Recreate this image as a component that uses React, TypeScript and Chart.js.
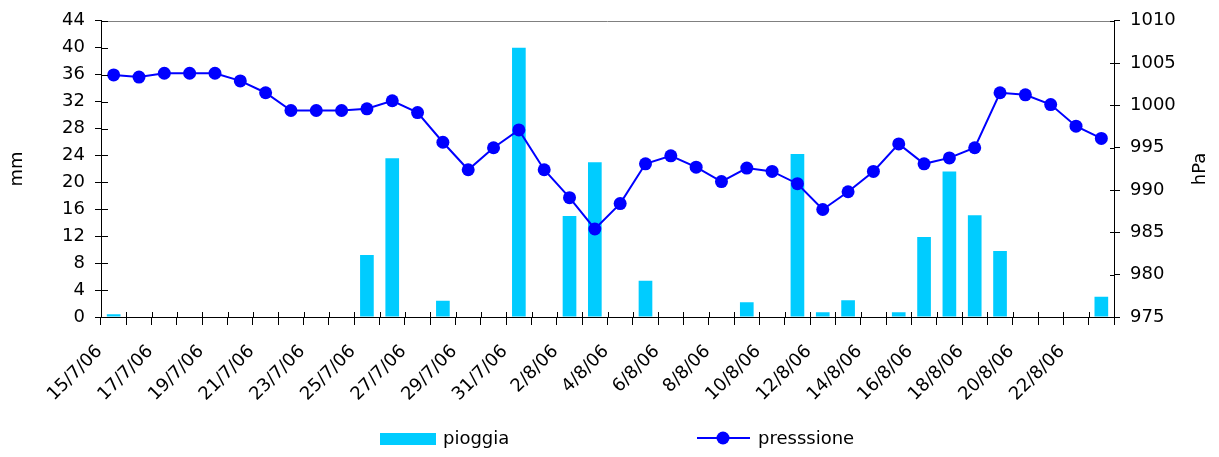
import { useEffect, useRef } from "react";
import { Chart, registerables } from "chart.js";

Chart.register(...registerables);

// Giorni di osservazione
const dates = [
  "15/7/06", "16/7/06", "17/7/06", "18/7/06", "19/7/06", "20/7/06", "21/7/06", "22/7/06",
  "23/7/06", "24/7/06", "25/7/06", "26/7/06", "27/7/06", "28/7/06", "29/7/06", "30/7/06",
  "31/7/06", "1/8/06", "2/8/06", "3/8/06", "4/8/06", "5/8/06", "6/8/06", "7/8/06",
  "8/8/06", "9/8/06", "10/8/06", "11/8/06", "12/8/06", "13/8/06", "14/8/06", "15/8/06",
  "16/8/06", "17/8/06", "18/8/06", "19/8/06", "20/8/06", "21/8/06", "22/8/06", "23/8/06",
];

// Pioggia giornaliera (mm)
const pioggia = [
  0.4, 0, 0, 0, 0, 0, 0, 0, 0, 0,
  9.2, 23.6, 0, 2.4, 0, 0, 40, 0, 15, 23,
  0, 5.4, 0, 0, 0, 2.2, 0, 24.2, 0.7, 2.5,
  0, 0.7, 11.9, 21.6, 15.1, 9.8, 0, 0, 0, 3.0,
];

// Pressione atmosferica (hPa)
const pressione = [
  1003.6, 1003.35, 1003.8, 1003.8, 1003.8, 1002.9, 1001.5, 999.4, 999.4, 999.4,
  999.6, 1000.55, 999.15, 995.65, 992.4, 995.0, 997.1, 992.4, 989.1, 985.4,
  988.4, 993.1, 994.05, 992.7, 991.0, 992.6, 992.2, 990.75, 987.7, 989.8,
  992.2, 995.45, 993.1, 993.8, 995.0, 1001.5, 1001.25, 1000.1, 997.55, 996.1,
];

// Scale ranges and axis titles
const mmMin = 0;
const mmMax = 44;
const mmStep = 4;
const hPaMin = 975;
const hPaMax = 1010;
const hPaStep = 5;
const mmTitle = "mm";
const hPaTitle = "hPa";

const FONT = "'DejaVu Sans', Verdana, sans-serif";
const FONT_SIZE = 18;
const BAR_COLOR = "#00CCFF";
const LINE_COLOR = "#0000FF";

// Plot frame, inner tick marks, right-hand axis title and the legend row
const framePlugin = {
  id: "frame",
  afterDraw(chart: any) {
    const { ctx, chartArea: a, scales } = chart;
    const seg = (x1: number, y1: number, x2: number, y2: number) => {
      ctx.beginPath();
      ctx.moveTo(x1, y1);
      ctx.lineTo(x2, y2);
      ctx.stroke();
    };
    ctx.save();
    ctx.lineWidth = 1;
    ctx.strokeStyle = "#808080";
    seg(a.left, Math.round(a.top) + 0.5, a.right, Math.round(a.top) + 0.5);

    ctx.strokeStyle = "#000";
    const yl = scales.y;
    for (const t of yl.ticks) {
      const py = Math.round(yl.getPixelForValue(t.value)) + 0.5;
      seg(a.left, py, a.left + 7, py);
    }
    const yr = scales.y1;
    for (const t of yr.ticks) {
      const py = Math.round(yr.getPixelForValue(t.value)) + 0.5;
      seg(a.right - 4, py, a.right, py);
    }
    const xs = scales.x;
    for (let i = 0; i <= dates.length; i++) {
      const px = Math.round(xs.getPixelForValue(i - 0.5)) + 0.5;
      seg(px, a.bottom - 5, px, a.bottom);
    }

    ctx.font = `${FONT_SIZE}px ${FONT}`;
    ctx.textBaseline = "middle";

    // right axis title, reading bottom to top
    ctx.save();
    ctx.translate(yr.right - 19, (a.top + a.bottom) / 2);
    ctx.rotate(-Math.PI / 2);
    ctx.textAlign = "center";
    ctx.fillStyle = "#000";
    ctx.fillText(hPaTitle, 0, 0);
    ctx.restore();

    // legend
    const ds = chart.data.datasets;
    const ly = 439;
    ctx.textAlign = "left";
    ctx.fillStyle = ds[1].backgroundColor;
    ctx.fillRect(380, ly - 6, 56, 12);
    ctx.fillStyle = "#000";
    ctx.fillText(ds[1].label, 443, ly);

    ctx.strokeStyle = ds[0].borderColor;
    ctx.lineWidth = 2;
    seg(697, ly - 1, 750, ly - 1);
    ctx.fillStyle = ds[0].pointBackgroundColor;
    ctx.beginPath();
    ctx.arc(723, ly - 1, 6.5, 0, Math.PI * 2);
    ctx.fill();
    ctx.fillStyle = "#000";
    ctx.fillText(ds[0].label, 758, ly);
    ctx.restore();
  },
};

export default function App() {
  const canvasRef = useRef<HTMLCanvasElement | null>(null);

  useEffect(() => {
    if (!canvasRef.current) return;
    const font = { family: FONT, size: FONT_SIZE };
    const chart = new Chart(canvasRef.current, {
      type: "bar",
      data: {
        labels: dates,
        datasets: [
          {
            type: "line",
            label: "presssione",
            data: pressione,
            yAxisID: "y1",
            borderColor: LINE_COLOR,
            backgroundColor: LINE_COLOR,
            pointBackgroundColor: LINE_COLOR,
            pointBorderColor: LINE_COLOR,
            pointRadius: 6.5,
            pointBorderWidth: 0,
            borderWidth: 2,
            tension: 0,
            order: 0,
          } as any,
          {
            type: "bar",
            label: "pioggia",
            data: pioggia,
            yAxisID: "y",
            backgroundColor: BAR_COLOR,
            borderWidth: 0,
            categoryPercentage: 1,
            barPercentage: 0.54,
            order: 1,
          },
        ],
      },
      options: {
        responsive: true,
        maintainAspectRatio: false,
        animation: false,
        layout: { padding: { top: 17, left: 0, right: 0, bottom: 0 } },
        plugins: {
          legend: { display: false },
          tooltip: { enabled: false },
        },
        scales: {
          x: {
            offset: true,
            grid: {
              offset: true,
              drawOnChartArea: false,
              tickLength: 8,
              color: "#000",
            },
            border: { color: "#000", width: 1 },
            ticks: {
              autoSkip: false,
              minRotation: 45,
              maxRotation: 45,
              labelOffset: -14,
              padding: 16,
              color: "#000",
              font,
              callback: (_v: any, i: number) => (i % 2 === 0 ? dates[i] : ""),
            },
            afterFit: (s: any) => {
              s.height = 140;
            },
          },
          y: {
            position: "left",
            min: mmMin,
            max: mmMax,
            grid: { drawOnChartArea: false, tickLength: 6, color: "#000" },
            border: { color: "#000", width: 1 },
            ticks: {
              stepSize: mmStep,
              padding: 10,
              color: "#000",
              font,
              callback: (v: any) => String(v),
            },
            title: {
              display: true,
              text: mmTitle,
              color: "#000",
              font,
              padding: { top: 7, bottom: 0 },
            },
            afterFit: (s: any) => {
              s.width = 101;
            },
          },
          y1: {
            position: "right",
            min: hPaMin,
            max: hPaMax,
            grid: { drawOnChartArea: false, tickLength: 6, color: "#000" },
            border: { color: "#000", width: 1 },
            ticks: {
              stepSize: hPaStep,
              padding: 10,
              color: "#000",
              font,
              callback: (v: any) => String(v),
            },
            afterFit: (s: any) => {
              s.width = 105;
            },
          },
        },
      },
      plugins: [framePlugin],
    });
    return () => chart.destroy();
  }, []);

  return (
    <div
      style={{
        position: "absolute",
        left: 0,
        top: 0,
        width: 1219,
        height: 457,
        background: "#fff",
      }}
    >
      <canvas ref={canvasRef} />
    </div>
  );
}
